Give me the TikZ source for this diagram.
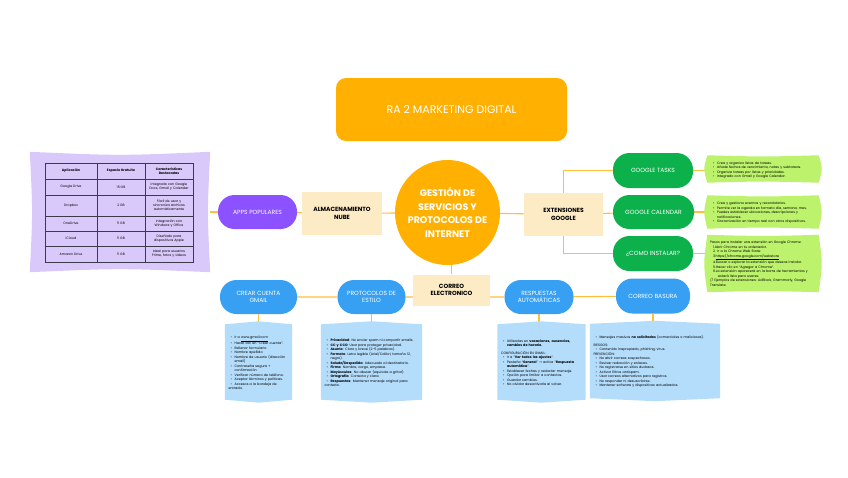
\documentclass[tikz,border=0pt]{standalone}
\usepackage{fontspec}
\setmainfont{Poppins}
\newfontfamily\dejavu{DejaVu Sans}
\usetikzlibrary{calc,backgrounds}
\definecolor{orng}{HTML}{FFB000}
\definecolor{beigec}{HTML}{FDEBC5}
\definecolor{purp}{HTML}{8C52FF}
\definecolor{lav}{HTML}{D9C9FA}
\definecolor{grn}{HTML}{0DB14B}
\definecolor{lgrn}{HTML}{BDF26C}
\definecolor{blu}{HTML}{38A0F2}
\definecolor{lblu}{HTML}{B4DCFB}
\definecolor{linec}{HTML}{FFBE3C}
\definecolor{tabc}{HTML}{3A3A4A}
\pgfdeclarelayer{paper}
\pgfdeclarelayer{lines}
\pgfdeclarelayer{shapes}
\pgfsetlayers{paper,lines,shapes,main}
\hyphenpenalty=10000
\exhyphenpenalty=10000
\newcommand\bi{\par\noindent\hangindent=6pt\hangafter=1\hspace*{2pt}\makebox[4pt][l]{\textbullet}}
\newcommand\gap{\par\vspace{3pt}}
\tikzset{
  conn/.style={draw=linec, line width=1.1pt},
  titlebox/.style={rectangle, fill=orng, rounded corners=10pt, minimum width=231pt, minimum height=63pt, text=white, font=\fontsize{11}{13}\selectfont},
  beigebox/.style={rectangle, fill=beigec, minimum width=80pt, minimum height=43pt, inner sep=0pt, align=center, font=\bfseries\fontsize{6}{7.4}\selectfont},
  pill/.style={rectangle, rounded corners=16.5pt, minimum width=79pt, minimum height=34pt, inner sep=0pt, align=center, text=white, font=\fontsize{6}{7.4}\selectfont},
  purplepill/.style={pill, fill=purp},
  greenpill/.style={pill, fill=grn},
  bluepill/.style={pill, fill=blu},
  notebox/.style={rectangle, inner xsep=3.5pt, inner ysep=0pt, align=left, font=\fontsize{3.35}{4.5}\selectfont},
  cell/.style={inner sep=0pt, align=center, font=\fontsize{3.3}{4.1}\selectfont},
  tabline/.style={draw=tabc, line width=0.5pt}
}
\newcommand\chevfill[2]{\fill[#1] (#2.north west) -- ($(#2.north)+(0,-3)$) -- (#2.north east) -- (#2.south east) -- ($(#2.south)+(0,3)$) -- (#2.south west) -- cycle;}
\newcommand\bulgefill[2]{\fill[#1] (#2.north west) .. controls ($(#2.north)+(0,1.5)$) .. (#2.north east) .. controls ($(#2.east)+(4,0)$) .. (#2.south east) .. controls ($(#2.south)+(0,-1.5)$) .. (#2.south west) .. controls ($(#2.west)+(-4,0)$) .. cycle;}
\begin{document}
\begin{tikzpicture}[x=1pt,y=-1pt]
\begin{pgfonlayer}{paper}
\fill[white] (0,0) rectangle (848,477);
\end{pgfonlayer}
\useasboundingbox (0,0) rectangle (848,477);

% title
\node[titlebox] (title) at (451.5,109.5) {RA 2 MARKETING DIGITAL};

% core
\node[circle, fill=orng, minimum size=105pt, inner sep=0pt, text=white, align=center,
      font=\bfseries\fontsize{9.5}{13.5}\selectfont] (core) at (447.5,212.5)
      {GESTIÓN DE\\SERVICIOS Y\\PROTOCOLOS DE\\INTERNET};

% beige boxes
\node[beigebox] (alm) at (342,213.5) {ALMACENAMIENTO\\NUBE};
\node[beigebox, minimum width=79pt] (ext) at (563.5,214.5) {EXTENSIONES\\GOOGLE};
\node[beigebox, minimum width=77pt, minimum height=31pt] (correo) at (451.5,290) {CORREO\\ELECTRONICO};

% pills
\node[purplepill] (apps) at (257.5,212) {APPS POPULARES};
\node[greenpill, minimum width=80pt, minimum height=35pt] (tasks) at (653,170.5) {GOOGLE TASKS};
\node[greenpill, minimum width=81pt] (cal) at (653.5,212) {GOOGLE CALENDAR};
\node[greenpill, minimum width=80pt, minimum height=35pt] (inst) at (653,253.5) {¿COMO INSTALAR?};
\node[bluepill, minimum width=77pt] (crear) at (258.5,297) {CREAR CUENTA\\GMAIL};
\node[bluepill, minimum width=68pt] (prot) at (371.5,297) {PROTOCOLOS DE\\ESTILO};
\node[bluepill, minimum width=69pt] (resp) at (539,297) {RESPUESTAS\\AUTOMÁTICAS};
\node[bluepill, minimum width=74pt, minimum height=35pt] (basura) at (653,296) {CORREO BASURA};

% lavender container with table
\node[minimum width=180pt, minimum height=120pt, inner sep=0pt] (lavbox) at (120,212) {};
\draw[tabline] (45,163) rectangle (193,262);
\foreach \yy in {179,195,216,231,246} \draw[tabline] (45,\yy) -- (193,\yy);
\draw[tabline] (97,163) -- (97,262);
\draw[tabline] (145,163) -- (145,262);
\node[cell, font=\bfseries\fontsize{3.3}{4.1}\selectfont] (h1) at (71,171) {Aplicación};
\node[cell, font=\bfseries\fontsize{3.3}{4.1}\selectfont] (h2) at (121,171) {Espacio Gratuito};
\node[cell, text width=44pt, font=\bfseries\fontsize{3.3}{4.1}\selectfont] (h3) at (169,171) {Características Destacadas};
\node[cell] (a1) at (71,187) {Google Drive};
\node[cell] (b1) at (121,187) {15 GB};
\node[cell, text width=44pt] (c1) at (169,187) {Integrado con Google Docs, Gmail y Calendar};
\node[cell] (a2) at (71,205.5) {Dropbox};
\node[cell] (b2) at (121,205.5) {2 GB};
\node[cell, text width=40pt] (c2) at (169,205.5) {Fácil de usar y sincroniza archivos automáticamente};
\node[cell] (a3) at (71,223.5) {OneDrive};
\node[cell] (b3) at (121,223.5) {5 GB};
\node[cell, text width=40pt] (c3) at (169,223.5) {Integración con Windows y Office};
\node[cell] (a4) at (71,238.5) {iCloud};
\node[cell] (b4) at (121,238.5) {5 GB};
\node[cell, text width=40pt] (c4) at (169,238.5) {Diseñado para dispositivos Apple};
\node[cell] (a5) at (71,254) {Amazon Drive};
\node[cell] (b5) at (121,254) {5 GB};
\node[cell, text width=44pt] (c5) at (169,254) {Ideal para usuarios Prime, fotos y videos};

% green notes
\node[notebox, text width=104pt, minimum height=27pt] (g1) at (763,169) {%
\bi Crea y organiza listas de tareas.
\bi Añade fechas de vencimiento, notas y subtareas.
\bi Organiza tareas por listas y prioridades.
\bi Integrado con Gmail y Google Calendar.};
\node[notebox, text width=104pt, minimum height=33pt] (g2) at (763,212) {%
\bi Crea y gestiona eventos y recordatorios.
\bi Permite ver la agenda en formato día, semana, mes.
\bi Puedes establecer ubicaciones, descripciones y notificaciones.
\bi Sincronización en tiempo real con otros dispositivos.};
\node[notebox, inner xsep=2.5pt, text width=106pt, minimum height=57pt] (g3) at (763,263.5) {%
Pasos para instalar una extensión en Google Chrome:\par
\leftskip=3pt 1.Abrir Chrome en tu ordenador.\par
2. Ir a la Chrome Web Store:\par
3.\underline{https://chrome.google.com/webstore}\par
4.Buscar o explorar la extensión que deseas instalar.\par
5.Hacer clic en “Agregar a Chrome”.\par
\hangindent=5pt\hangafter=1 6.La extensión aparecerá en la barra de herramientas y estará lista para usarse.\par
\leftskip=0pt // Ejemplos de extensiones: AdBlock, Grammarly, Google Translate.};

% blue notes
\node[notebox, text width=60pt, minimum height=75pt] (na) at (258.5,362) {%
\bi Ir a \underline{www.gmail.com}
\bi Hacer clic en “Crear cuenta”.
\bi Rellenar formulario
\bi Nombre apellido
\bi Nombre de usuario (dirección email)
\bi Contraseña segura + confirmación
\bi Verificar número de teléfono.
\bi Aceptar términos y políticas.
\bi Accesos a la bandeja de entrada.};
\node[notebox, text width=94pt, minimum height=75pt] (nb) at (371.5,362) {%
\bi \textbf{Privacidad}: No enviar spam ni compartir emails.
\bi \textbf{CC y CCO}: Usar para proteger privacidad.
\bi \textbf{Asunto}: Claro y breve (2-5 palabras).
\bi \textbf{Formato}: Letra legible (Arial/Calibri, tamaño 12, negro).
\bi \textbf{Saludo/Despedida}: Adecuado al destinatario.
\bi \textbf{Firma}: Nombre, cargo, empresa.
\bi \textbf{Mayúsculas}: No abusar (equivale a gritar).
\bi \textbf{Ortografía}: Correcta y clara.
\bi \textbf{Respuestas}: Mantener mensaje original para contexto.};
\node[notebox, text width=81pt, minimum height=75pt] (nc) at (541.5,362) {%
\bi Utilizadas en \textbf{vacaciones, ausencias, cambios de horario.}
\gap\noindent CONFIGURACIÓN EN GMAIL:
\bi Ir a “\textbf{Ver todos los ajustes}”.
\bi Pestaña “\textbf{General}” {\dejavu →} activa “\textbf{Respuesta automática}”.
\bi Establecer fechas y redactar mensaje.
\bi Opción para limitar a contactos.
\bi Guardar cambios.
\bi No olvidar desactivarla al volver.};
\node[notebox, text width=123pt, minimum height=74pt] (nd) at (655,361) {%
\bi Mensajes masivos \textbf{no solicitados} (comerciales o maliciosos).
\gap\noindent RIESGOS:
\bi Contenido inapropiado, phishing, virus.
\par\noindent PREVENCIÓN:
\bi No abrir correos sospechosos.
\bi Revisar redacción y enlaces.
\bi No registrarse en sitios dudosos.
\bi Activar filtros antispam.
\bi Usar correos alternativos para registros.
\bi No responder ni desuscribirse.
\bi Mantener software y dispositivos actualizados.};

% shape fills
\begin{pgfonlayer}{shapes}
  \fill[lav] (lavbox.north west) .. controls ($(lavbox.north)+(0,4)$) .. (lavbox.north east)
     .. controls ($(lavbox.east)+(-3,0)$) .. (lavbox.south east)
     .. controls ($(lavbox.south)+(0,-4)$) .. (lavbox.south west)
     .. controls ($(lavbox.west)+(3,0)$) .. cycle;
  \bulgefill{lgrn}{g1}
  \bulgefill{lgrn}{g2}
  \bulgefill{lgrn}{g3}
  \chevfill{lblu}{na}
  \chevfill{lblu}{nb}
  \chevfill{lblu}{nc}
  \chevfill{lblu}{nd}
\end{pgfonlayer}

% connectors
\begin{pgfonlayer}{lines}
  \draw[conn] (lavbox) -- (apps);
  \draw[conn] (apps) -- (alm);
  \draw[conn] (alm) -- (core);
  \draw[conn] (core) -- (ext);
  \draw[conn] (ext) -- (cal);
  \draw[conn] (tasks) -| (ext);
  \draw[conn] (ext) |- (inst);
  \draw[conn] (tasks) -- (tasks -| g1.center);
  \draw[conn] (cal) -- (cal -| g2.center);
  \draw[conn] (inst) -- (inst -| g3.center);
  \draw[conn] (correo) -- (correo |- core);
  \draw[conn] (crear) -- (prot) -- (correo |- prot) -- (resp) -- (basura);
  \draw[conn] (crear) -- (na);
  \draw[conn] (prot) -- (prot |- nb);
  \draw[conn] (resp) -- (resp |- nc);
  \draw[conn] (basura) -- (basura |- nd);
\end{pgfonlayer}
\end{tikzpicture}
\end{document}
